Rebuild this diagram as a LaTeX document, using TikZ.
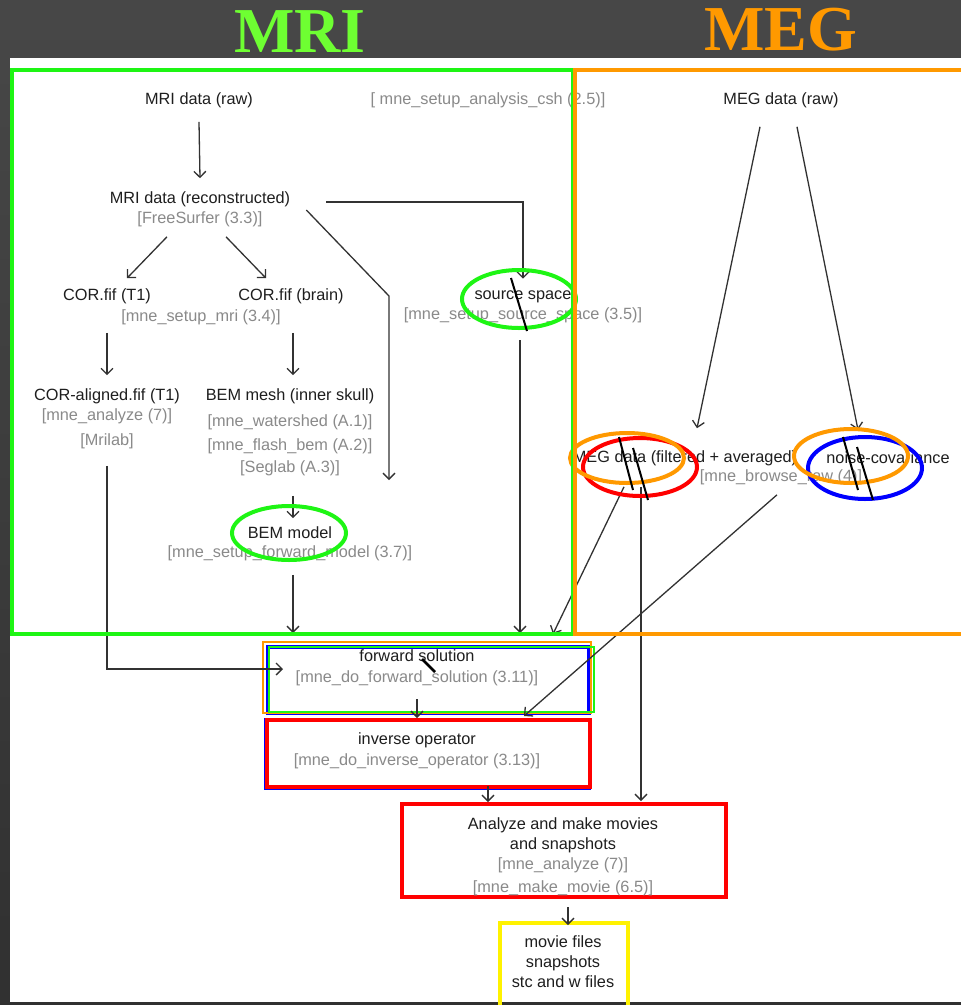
\documentclass[tikz,border=0pt]{standalone}
\usepackage{fontspec}
\setmainfont{Liberation Sans}
\newfontfamily\titlefont{Liberation Serif}
\usetikzlibrary{arrows.meta}

\definecolor{mrititle}{RGB}{110,255,50}
\definecolor{mrigreen}{RGB}{30,245,20}
\definecolor{megorange}{RGB}{255,153,0}
\definecolor{cmdgray}{RGB}{138,138,138}
\definecolor{txtblack}{RGB}{30,30,30}
\definecolor{linegray}{RGB}{50,50,50}

\tikzset{
  lbl/.style={inner sep=0pt, align=center, text=txtblack, font=\fontsize{16.3}{20}\selectfont},
  cmd/.style={lbl, text=cmdgray},
  flow/.style={->, draw=linegray, line width=1.3pt},
  frame/.style={draw, line width=4pt, inner sep=0pt},
  ring/.style={line width=4pt},
  tick/.style={line width=2pt, black},
  region/.style={line width=4pt},
  heading/.style={inner sep=0pt, font=\fontsize{64}{64}\titlefont\bfseries}
}

\begin{document}
\begin{tikzpicture}[x=1pt, y=-1pt, >={Straight Barb[length=6pt,width=12pt]}]
  \useasboundingbox (0,0) rectangle (961,1005);

  % Background and page
  \shade[top color=black!72, bottom color=black!81] (0,0) rectangle (961,1005);
  \fill[white] (10,58) rectangle (961,1002);

  % Titles
  \node[heading, text=mrititle] (mrihead) at (300,32) {MRI};
  \node[heading, text=megorange] (meghead) at (781,30) {MEG};

  % MRI side
  \node[lbl] (MRIraw) at (199,100) {MRI data (raw)};
  \node[cmd] (setupcsh) at (488,100) {[ mne\_setup\_analysis\_csh (2.5)]};
  \node[lbl] (MRIrec) at (200,209) {MRI data (reconstructed)\\\textcolor{cmdgray}{[FreeSurfer (3.3)]}};
  \node[lbl] (CORT1) at (107,296) {COR.fif (T1)};
  \node[lbl] (CORbrain) at (291,296) {COR.fif (brain)};
  \node[cmd] (setupmri) at (201,317) {[mne\_setup\_mri (3.4)]};
  \node[lbl] (srcspace) at (523,307) {source space\\\textcolor{cmdgray}{[mne\_setup\_source\_space (3.5)]}};
  \node[lbl] (CORal) at (107,418.5) {COR-aligned.fif (T1)\\\textcolor{cmdgray}{[mne\_analyze (7)]}\\[5pt]\textcolor{cmdgray}{[Mrilab]}};
  \node[lbl, font=\fontsize{16.3}{22}\selectfont] (BEMmesh) at (290,432) {BEM mesh (inner skull)\\[4pt]\textcolor{cmdgray}{[mne\_watershed (A.1)]}\\[2pt]\textcolor{cmdgray}{[mne\_flash\_bem (A.2)]}\\\textcolor{cmdgray}{[Seglab (A.3)]}};
  \node[lbl, font=\fontsize{16.3}{19}\selectfont] (BEMmodel) at (290,543.5) {BEM model\\\textcolor{cmdgray}{[mne\_setup\_forward\_model (3.7)]}};
  \coordinate (bemin) at (389,480);

  % MEG side
  \node[lbl] (MEGraw) at (781,100) {MEG data (raw)};
  \node[lbl] (MEGfilt) at (685,458) {MEG data (filtered + averaged)};
  \node[lbl] (noisecov) at (888,458) {noise-covariance};
  \node[cmd] (browse) at (781,477) {[mne\_browse\_raw (4)]};

  % Boxes at the bottom
  \node[frame, draw=blue, minimum width=321pt, minimum height=66pt] (fwd) at (428.5,680) {};
  \draw[megorange, line width=1.5pt] ([xshift=-3pt,yshift=3pt]fwd.north west) rectangle ([yshift=2pt]fwd.south east);
  \draw[mrigreen, line width=1.5pt] ([xshift=3pt,yshift=-2pt]fwd.north west) rectangle ([xshift=3pt,yshift=3pt]fwd.south east);
  \node[lbl, font=\fontsize{16.3}{21}\selectfont] (fwdtxt) at (417,667.5) {forward solution\\\textcolor{cmdgray}{[mne\_do\_forward\_solution (3.11)]}};

  \draw[blue, line width=1.5pt] (265,719) rectangle (590,789);
  \node[frame, draw=red, minimum width=323pt, minimum height=67pt] (inverse) at (428.5,753.5) {};
  \node[lbl, font=\fontsize{16.3}{21}\selectfont] (invtxt) at (417,750.5) {inverse operator\\\textcolor{cmdgray}{[mne\_do\_inverse\_operator (3.13)]}};

  \node[frame, draw=red, minimum width=324pt, minimum height=93pt] (analyze) at (564,850.5) {};
  \node[lbl] (analyzetxt) at (563,856.5) {Analyze and make movies\\and snapshots\\\textcolor{cmdgray}{[mne\_analyze (7)]}\\[3pt]\textcolor{cmdgray}{[mne\_make\_movie (6.5)]}};

  \node[frame, draw=yellow, minimum width=128pt, minimum height=89pt] (movie) at (564,967.5) {};
  \node[lbl] (movietxt) at (563,962) {movie files\\snapshots\\stc and w files};

  % Connectors
  \draw[flow] ([yshift=-14pt]MRIraw.south) -- ([yshift=13pt]MRIrec.north);
  \draw[flow] ([xshift=-33pt,yshift=-10pt]MRIrec.south) -- ([xshift=20pt,yshift=10pt]CORT1.north);
  \draw[flow] ([xshift=26pt,yshift=-10pt]MRIrec.south) -- ([xshift=-25pt,yshift=10pt]CORbrain.north);
  \draw[flow] ([xshift=36pt,yshift=7pt]MRIrec.east) -| ([yshift=12pt]srcspace.north);
  \draw[flow] ([xshift=16pt,yshift=-1pt]MRIrec.east) -- (bemin |- CORbrain) -- (bemin);
  \draw[flow] ([yshift=-29pt]CORT1.south) -- ([yshift=13pt]CORal.north);
  \draw[flow] ([xshift=2pt,yshift=-29pt]CORbrain.south) -- ([xshift=3pt,yshift=13pt]BEMmesh.north);
  \draw[flow] ([xshift=3pt,yshift=-20pt]BEMmesh.south) -- ([xshift=3pt,yshift=8pt]BEMmodel.north);
  \draw[flow] ([xshift=3pt,yshift=-14pt]BEMmodel.south) -- ([xshift=-135.5pt,yshift=12pt]fwd.north);
  \draw[flow] ([xshift=-3pt,yshift=-17pt]srcspace.south) -- ([xshift=91.5pt,yshift=12pt]fwd.north);
  \draw[flow] ([yshift=-17pt]CORal.south) |- ([xshift=17pt,yshift=11pt]fwd.west);
  \draw[flow] ([xshift=-21pt,yshift=-19pt]MEGraw.south) -- ([xshift=12pt,yshift=22pt]MEGfilt.north);
  \draw[flow] ([xshift=16pt,yshift=-19pt]MEGraw.south) -- ([xshift=-30pt,yshift=22pt]noisecov.north);
  \draw[flow] ([xshift=-61pt,yshift=-21pt]MEGfilt.south) -- ([xshift=124.5pt,yshift=11pt]fwd.north);
  \draw[flow] ([xshift=-44pt,yshift=-21pt]MEGfilt.south) -- ([xshift=77pt,yshift=1pt]analyze.north);
  \draw[flow] ([xshift=-4pt,yshift=-10pt]browse.south) -- ([xshift=95.5pt,yshift=2pt]inverse.north);
  \draw[flow] ([xshift=-11.5pt,yshift=16pt]fwd.south) -- ([xshift=-11.5pt]inverse.north);
  \draw[flow] ([xshift=59.5pt,yshift=3pt]inverse.south) -- ([xshift=-76pt]analyze.north);
  \draw[flow] ([xshift=4pt,yshift=-8pt]analyze.south) -- ([xshift=4pt,yshift=-4pt]movie.north);

  % Highlight rings
  \draw[ring, mrigreen] (519,299) ellipse [x radius=57pt, y radius=29pt];
  \draw[ring, mrigreen] (289,533) ellipse [x radius=57pt, y radius=27pt];
  \draw[ring, red] (640,467) ellipse [x radius=57pt, y radius=29pt];
  \draw[ring, megorange] (627,458) ellipse [x radius=57pt, y radius=25pt];
  \draw[ring, blue] (865,468) ellipse [x radius=57pt, y radius=31pt];
  \draw[ring, megorange] (851,456) ellipse [x radius=57pt, y radius=27pt];

  % Strike marks
  \draw[tick] (511,278) -- (527,331);
  \draw[tick] (619,437) -- (633,490);
  \draw[tick] (633,448) -- (648,500);
  \draw[tick] (843,437) -- (858,490);
  \draw[tick] (857,447) -- (873,500);
  \draw[tick, line width=2.5pt] (422,659) -- (435,672);

  % Regions (the MEG one runs off the right edge)
  \draw[region, mrigreen] (12,70) rectangle (573,634);
  \draw[region, megorange] (575,70) rectangle (975,634);
\end{tikzpicture}
\end{document}
